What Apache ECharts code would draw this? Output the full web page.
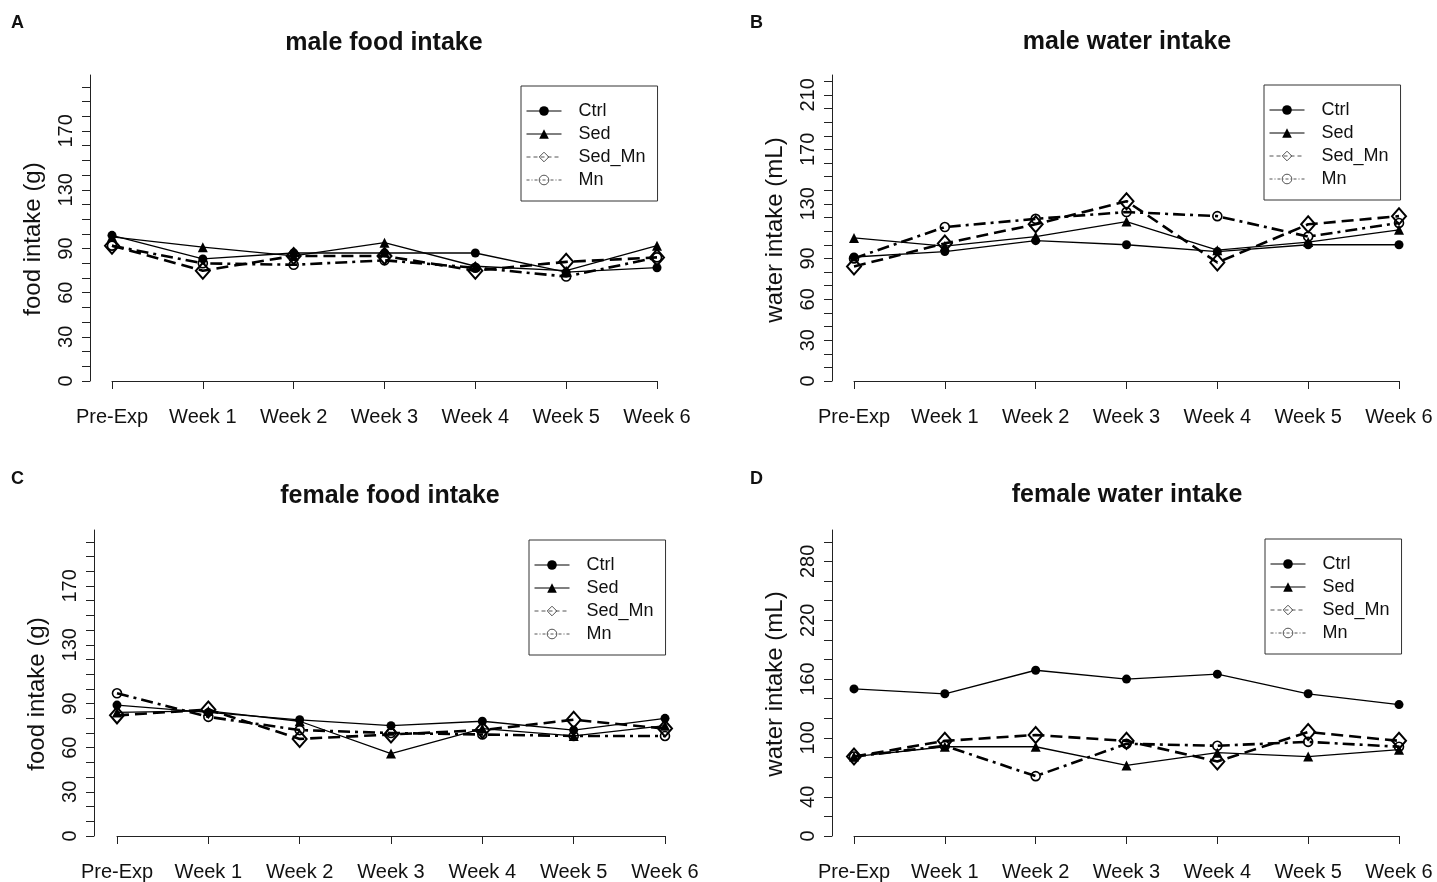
<!DOCTYPE html>
<html>
<head>
<meta charset="utf-8">
<script src="https://cdn.jsdelivr.net/npm/echarts@6/dist/echarts.min.js"></script>
<style>
html,body{margin:0;padding:0;background:#fff;}
#chart{width:1437px;height:882px;}
</style>
</head>
<body>
<div id="chart"></div>
<script>
// ---------- data ----------
const categories = ['Pre-Exp', 'Week 1', 'Week 2', 'Week 3', 'Week 4', 'Week 5', 'Week 6'];
const seriesNames = ['Ctrl', 'Sed', 'Sed_Mn', 'Mn'];

// A: male food intake (g)
const maleFoodCtrl  = [99, 83, 87, 87, 87, 74, 77];
const maleFoodSed   = [98, 91, 85, 94, 78, 75, 92];
const maleFoodSedMn = [92, 75, 85, 85, 75, 81, 84];
const maleFoodMn    = [92, 80, 79, 82, 77, 71, 84];

// B: male water intake (mL)
const maleWaterCtrl  = [91, 95, 103, 100, 95, 100, 100];
const maleWaterSed   = [105, 99, 106, 117, 96, 102, 111];
const maleWaterSedMn = [84, 101, 115, 132, 87, 115, 121];
const maleWaterMn    = [90, 113, 119, 124, 121, 106, 116];

// C: female food intake (g)
const femaleFoodCtrl  = [89, 84, 79, 75, 78, 72, 80];
const femaleFoodSed   = [84, 85, 78, 56, 73, 68, 75];
const femaleFoodSedMn = [82, 86, 66, 69, 72, 79, 73];
const femaleFoodMn    = [97, 81, 72, 70, 69, 68, 68];

// D: female water intake (mL)
const femaleWaterCtrl  = [150, 145, 169, 160, 165, 145, 134];
const femaleWaterSed   = [81, 91, 91, 72, 85, 81, 88];
const femaleWaterSedMn = [81, 97, 103, 97, 76, 106, 97];
const femaleWaterMn    = [81, 92, 61, 94, 92, 96, 91];

// tick values / tick labels
const foodTicks = [0,10,20,30,40,50,60,70,80,90,100,110,120,130,140,150,160,170,180,190,200];
const foodTickLabels = [0, 30, 60, 90, 130, 170];
const maleWaterTicks = [0,10,20,30,40,50,60,70,80,90,100,110,120,130,140,150,160,170,180,190,200,210,220];
const maleWaterTickLabels = [0, 30, 60, 90, 130, 170, 210];
const femaleWaterTicks = [0,20,40,60,80,100,120,140,160,180,200,220,240,260,280,300];
const femaleWaterTickLabels = [0, 40, 100, 160, 220, 280];

// ---------- layout / style ----------
const FONT = 'Liberation Sans, Arial, Helvetica, sans-serif';
const INK = '#111';

const panels = [
  { letter: 'A', title: 'male food intake', yName: 'food intake (g)', yNameShift: 22,
    data: [maleFoodCtrl, maleFoodSed, maleFoodSedMn, maleFoodMn],
    ticks: foodTicks, labels: foodTickLabels, ymax: 208,
    grid: { left: 112, top: 75, width: 545, height: 306 }, yOffset: 22,
    titleX: 384, titleY: 42, letterX: 11, letterY: 22, legend: { left: 521, top: 86 } },
  { letter: 'B', title: 'male water intake', yName: 'water intake (mL)', yNameShift: 4,
    data: [maleWaterCtrl, maleWaterSed, maleWaterSedMn, maleWaterMn],
    ticks: maleWaterTicks, labels: maleWaterTickLabels, ymax: 224.6,
    grid: { left: 854, top: 75, width: 545, height: 306 }, yOffset: 22,
    titleX: 1127, titleY: 41, letterX: 750, letterY: 22, legend: { left: 1264, top: 85 } },
  { letter: 'C', title: 'female food intake', yName: 'food intake (g)', yNameShift: 22,
    data: [femaleFoodCtrl, femaleFoodSed, femaleFoodSedMn, femaleFoodMn],
    ticks: foodTicks, labels: foodTickLabels, ymax: 208,
    grid: { left: 117, top: 530, width: 548, height: 306 }, yOffset: 23,
    titleX: 390, titleY: 495, letterX: 11, letterY: 478, legend: { left: 529, top: 540 } },
  { letter: 'D', title: 'female water intake', yName: 'water intake (mL)', yNameShift: 2,
    data: [femaleWaterCtrl, femaleWaterSed, femaleWaterSedMn, femaleWaterMn],
    ticks: femaleWaterTicks, labels: femaleWaterTickLabels, ymax: 312,
    grid: { left: 854, top: 530, width: 545, height: 306 }, yOffset: 22,
    titleX: 1127, titleY: 494, letterX: 750, letterY: 478, legend: { left: 1265, top: 539 } }
];

const seriesStyle = {
  Ctrl:   { symbol: 'circle', symbolSize: 9,
            itemStyle: { color: '#000', borderColor: '#000', borderWidth: 0 },
            lineStyle: { color: '#000', width: 1.3, type: 'solid' } },
  Sed:    { symbol: 'triangle', symbolSize: 10,
            itemStyle: { color: '#000', borderColor: '#000', borderWidth: 0 },
            lineStyle: { color: '#000', width: 1.3, type: 'solid' } },
  Sed_Mn: { symbol: 'diamond', symbolSize: [14, 16],
            itemStyle: { color: 'rgba(0,0,0,0)', borderColor: '#000', borderWidth: 2 },
            lineStyle: { color: '#000', width: 2.6, type: [12, 6] } },
  Mn:     { symbol: 'circle', symbolSize: 9,
            itemStyle: { color: 'rgba(0,0,0,0)', borderColor: '#000', borderWidth: 1.6 },
            lineStyle: { color: '#000', width: 2.6, type: [12, 5, 3, 5] } }
};

const legendItemStyle = {
  Ctrl:   { lineStyle: { width: 1, type: 'solid' }, itemStyle: { borderWidth: 0 } },
  Sed:    { lineStyle: { width: 1, type: 'solid' }, itemStyle: { borderWidth: 0 } },
  Sed_Mn: { lineStyle: { width: 1, type: [4, 3], color: '#555' }, itemStyle: { borderWidth: 1, borderColor: '#555' } },
  Mn:     { lineStyle: { width: 1, type: [3, 2, 1, 2], color: '#555' }, itemStyle: { borderWidth: 1, borderColor: '#555' } }
};

const option = {
  animation: false,
  backgroundColor: '#fff',
  textStyle: { fontFamily: FONT, color: INK },
  title: [], grid: [], xAxis: [], yAxis: [], legend: [], series: []
};

panels.forEach((p, i) => {
  option.title.push({
    text: p.title, left: p.titleX, top: p.titleY - 11, textAlign: 'center', padding: 0,
    textStyle: { fontFamily: FONT, fontSize: 25, fontWeight: 'bold', color: INK }
  });
  option.title.push({
    text: p.letter, left: p.letterX, top: p.letterY - 8, padding: 0,
    textStyle: { fontFamily: FONT, fontSize: 18, fontWeight: 'bold', color: INK }
  });
  option.grid.push(Object.assign({ containLabel: false }, p.grid));
  option.xAxis.push({
    type: 'category', gridIndex: i, data: categories, boundaryGap: false, offset: 12,
    axisLine: { show: true, lineStyle: { color: '#222', width: 1 } },
    axisTick: { show: true, length: 8, lineStyle: { color: '#222' } },
    axisLabel: { interval: 0, fontSize: 20, margin: 14, color: INK, fontFamily: FONT },
    splitLine: { show: false }
  });
  option.yAxis.push({
    type: 'value', gridIndex: i, min: 0, max: p.ymax, offset: p.yOffset,
    name: p.yName, nameLocation: 'middle', nameGap: 45,
    nameTextStyle: { fontSize: 24, color: INK, fontFamily: FONT, padding: [0, p.yNameShift, 0, 0] },
    axisLine: { show: true, lineStyle: { color: '#222', width: 1 } },
    axisTick: { show: true, length: 8, customValues: p.ticks, lineStyle: { color: '#222' } },
    axisLabel: { rotate: 90, fontSize: 20, margin: 14, color: INK, fontFamily: FONT,
                 customValues: p.labels },
    splitLine: { show: false }
  });
  option.legend.push({
    orient: 'vertical', left: p.legend.left, top: p.legend.top,
    itemWidth: 35, itemHeight: 12, itemGap: 5,
    padding: [16, 12, 12, 5],
    borderColor: '#333', borderWidth: 1, borderRadius: 0,
    selectedMode: false,
    textStyle: { fontSize: 18, color: INK, fontFamily: FONT, lineHeight: 18, padding: [0, 0, 0, 12] },
    data: seriesNames.map(n => Object.assign({ name: n }, legendItemStyle[n]))
  });
  seriesNames.forEach((n, k) => {
    const s = seriesStyle[n];
    option.series.push({
      name: n, type: 'line', xAxisIndex: i, yAxisIndex: i,
      data: p.data[k],
      symbol: s.symbol, symbolSize: s.symbolSize, showSymbol: true, showAllSymbol: true,
      itemStyle: s.itemStyle, lineStyle: s.lineStyle,
      emphasis: { disabled: true }, z: 2 + k
    });
  });
});

const chart = echarts.init(document.getElementById('chart'), null, { renderer: 'canvas' });
chart.setOption(option);
</script>
</body>
</html>
